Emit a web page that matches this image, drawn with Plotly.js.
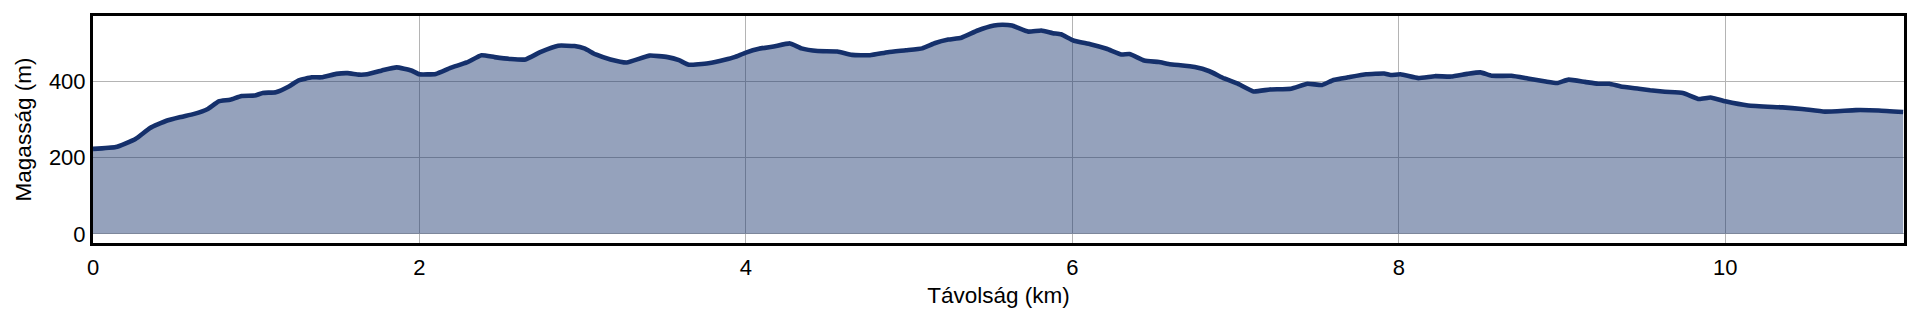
<!DOCTYPE html>
<html>
<head>
<meta charset="utf-8">
<script src="https://cdn.plot.ly/plotly-3.0.1.min.js"></script>
<style>
  html, body { margin: 0; padding: 0; background: #ffffff; }
  #chart { width: 1920px; height: 320px; }
</style>
</head>
<body>
<div id="chart"></div>
<script>
// Distance along the route (km)
const distanceKm = [
  0, 0.14, 0.26, 0.35, 0.45, 0.54, 0.62, 0.70, 0.77, 0.84,
  0.91, 0.99, 1.04, 1.12, 1.20, 1.26, 1.34, 1.40, 1.49, 1.56,
  1.63, 1.68, 1.77, 1.86, 1.95, 2.00, 2.10, 2.19, 2.29, 2.38,
  2.46, 2.56, 2.65, 2.74, 2.85, 2.95, 3.01, 3.08, 3.17, 3.27,
  3.41, 3.52, 3.59, 3.65, 3.77, 3.87, 3.93, 4.00, 4.08, 4.17,
  4.27, 4.34, 4.44, 4.56, 4.65, 4.76, 4.87, 4.98, 5.08, 5.16,
  5.24, 5.32, 5.42, 5.52, 5.57, 5.63, 5.73, 5.81, 5.88, 5.93,
  6.01, 6.11, 6.21, 6.30, 6.35, 6.44, 6.53, 6.59, 6.75, 6.84,
  6.93, 7.01, 7.11, 7.21, 7.34, 7.44, 7.53, 7.60, 7.69, 7.80,
  7.91, 7.95, 8.01, 8.12, 8.22, 8.32, 8.42, 8.50, 8.57, 8.69,
  8.79, 8.90, 8.97, 9.04, 9.14, 9.22, 9.29, 9.36, 9.47, 9.54,
  9.63, 9.74, 9.84, 9.91, 10.00, 10.14, 10.35, 10.47, 10.61, 10.80,
  10.94, 11.09
];

// Elevation (m)
const elevationM = [
  223, 228, 249, 278, 297, 307, 315, 327, 348, 352,
  362, 363, 370, 372, 387, 403, 411, 411, 420, 422,
  418, 419, 429, 437, 429, 419, 420, 436, 450, 469,
  464, 459, 458, 477, 494, 493, 487, 471, 458, 450,
  468, 464, 456, 444, 448, 457, 464, 476, 486, 492,
  500, 487, 480, 479, 470, 469, 477, 482, 487, 501,
  510, 515, 534, 547, 549, 547, 531, 534, 527, 524,
  507, 498, 486, 471, 472, 455, 451, 446, 438, 427,
  408, 395, 374, 379, 381, 394, 391, 404, 411, 419,
  421, 417, 419, 409, 414, 413, 420, 424, 415, 415,
  408, 400, 396, 405, 399, 394, 394, 387, 381, 377,
  373, 370, 354, 358, 348, 337, 332, 328, 321, 325,
  324, 320
];

const xTickVals = [0, 2, 4, 6, 8, 10];
const yTickVals = [0, 200, 400];

const xTitle = 'Távolság (km)';
const yTitle = 'Magasság (m)';

const FONT = 'Liberation Sans, Arial, Helvetica, sans-serif';

const trace = {
  x: distanceKm,
  y: elevationM,
  type: 'scatter',
  mode: 'lines',
  fill: 'tozeroy',
  fillcolor: 'rgba(21,48,107,0.45)',
  line: { color: '#15306b', width: 4.6, shape: 'spline', smoothing: 0.4 },
  hoverinfo: 'x+y'
};

const layout = {
  width: 1920,
  height: 320,
  margin: { l: 93, r: 16, t: 16, b: 77, pad: 0 },
  paper_bgcolor: '#ffffff',
  plot_bgcolor: '#ffffff',
  showlegend: false,
  font: { family: FONT, size: 22, color: '#000000' },
  xaxis: {
    range: [0, 11.095],
    tickvals: xTickVals,
    ticktext: xTickVals.map(String),
    ticks: '',
    ticklabelstandoff: 3,
    showgrid: true,
    gridcolor: '#b4b4b4',
    gridwidth: 1,
    zeroline: false,
    showline: true,
    mirror: true,
    linecolor: '#000000',
    linewidth: 3,
    tickfont: { family: FONT, size: 22, color: '#000000' },
    title: { text: xTitle, font: { family: FONT, size: 22.5, color: '#000000' }, standoff: 8 }
  },
  yaxis: {
    range: [-24, 572],
    tickvals: yTickVals,
    ticktext: yTickVals.map(String),
    ticks: '',
    showgrid: true,
    gridcolor: '#b4b4b4',
    gridwidth: 1,
    zeroline: false,
    showline: true,
    mirror: true,
    linecolor: '#000000',
    linewidth: 3,
    tickfont: { family: FONT, size: 22, color: '#000000' },
    title: { text: yTitle, font: { family: FONT, size: 22.5, color: '#000000' }, standoff: 12 }
  }
};

Plotly.newPlot('chart', [trace], layout, { displayModeBar: false, staticPlot: true });
</script>
</body>
</html>
